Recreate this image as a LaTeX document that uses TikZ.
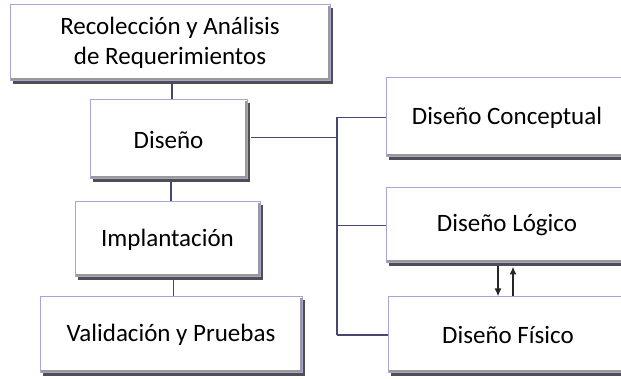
\documentclass[tikz,border=0pt]{standalone}
\usepackage{fontspec}
\setmainfont{Carlito}
\usetikzlibrary{shadows,arrows.meta,calc}
\definecolor{boxline}{RGB}{165,165,215}
\definecolor{conn}{RGB}{70,70,110}
\definecolor{shad}{RGB}{60,60,60}
\tikzset{
  stagebox/.style={draw=boxline, line width=1pt, fill=white, inner sep=0pt,
    align=center, font=\fontsize{25}{30}\selectfont,
    drop shadow={shadow xshift=2.5pt, shadow yshift=-3pt, fill=shad, opacity=0.9},
    path picture={
      \draw[black!40, line width=2pt]
        ([xshift=-1.5pt,yshift=1.5pt]path picture bounding box.south west) --
        ([xshift=-1.5pt,yshift=1.5pt]path picture bounding box.south east) --
        ([xshift=-1.5pt,yshift=-1pt]path picture bounding box.north east);
    }},
  connline/.style={draw=conn, line width=1.5pt},
  flowarrow/.style={draw=black!85, line width=1.6pt, -{Latex[length=8pt,width=7pt]}}
}
\begin{document}
\begin{tikzpicture}[x=1pt,y=1pt]
\useasboundingbox (0,0) rectangle (621,379);
% left column
\node[stagebox, minimum width=320, minimum height=76] (rec) at (170,336) {Recolección y Análisis\\de Requerimientos};
\node[stagebox, minimum width=157, minimum height=79] (dis) at (168.5,239.5) {Diseño};
\node[stagebox, minimum width=185, minimum height=75] (imp) at (167.5,139.5) {Implantación};
\node[stagebox, minimum width=262, minimum height=76] (val) at (171,44) {Validación y Pruebas};
% right column
\node[stagebox, minimum width=242, minimum height=79] (con) at (507,261.5) {Diseño Conceptual};
\node[stagebox, minimum width=242, minimum height=75] (log) at (507,153.5) {Diseño Lógico};
\node[stagebox, minimum width=240, minimum height=76] (fis) at (508,44) {Diseño Físico};
\coordinate (busx) at (337,0);
% vertical connectors
\draw[connline] ([xshift=3.5pt]dis.north) -- ([xshift=3.5pt,yshift=-3pt]dis.north |- rec.south);
\draw[connline] ([xshift=3.5pt]imp.north) -- ([xshift=3.5pt,yshift=-3pt]imp.north |- dis.south);
\draw[connline] ([xshift=2.5pt]val.north) -- ([xshift=2.5pt,yshift=-3pt]val.north |- imp.south);
% bus
\draw[connline] ([yshift=2pt,xshift=3pt]dis.east) -- ([yshift=2pt]dis.east -| busx);
\draw[connline] (con.west -| busx) -- (fis.west -| busx);
\draw[connline] (con.west -| busx) -- (con.west);
\draw[connline] (log.west -| busx) -- (log.west);
\draw[connline] (fis.west -| busx) -- (fis.west);
% arrows
\draw[flowarrow] ([xshift=-9pt,yshift=-3pt]log.south) -- ([xshift=-9pt]log.south |- fis.north);
\draw[flowarrow] ([xshift=6pt]log.south |- fis.north) -- ([xshift=6pt,yshift=-3pt]log.south);
\end{tikzpicture}
\end{document}
